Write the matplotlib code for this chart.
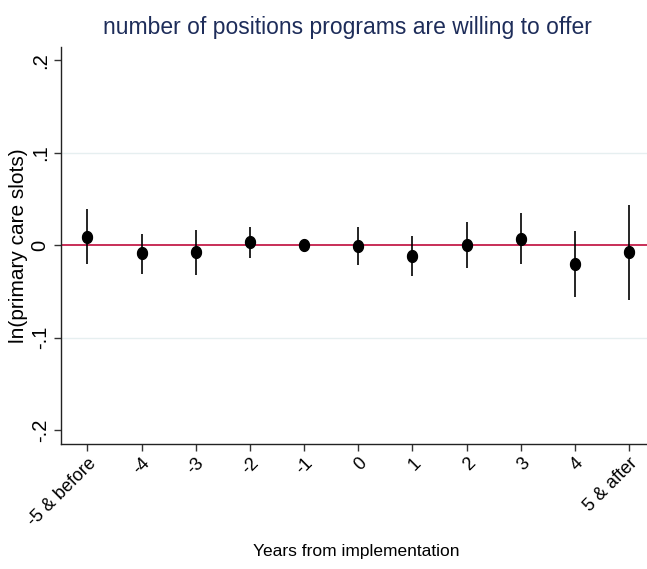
import numpy as np
import matplotlib.pyplot as plt

# event-study estimates
labels = ["-5 & before", "-4", "-3", "-2", "-1", "0", "1", "2", "3", "4", "5 & after"]
coef = [0.009, -0.009, -0.008, 0.003, 0.000, -0.001, -0.012, 0.000, 0.007, -0.020, -0.008]
ci_lo = [-0.021, -0.031, -0.032, -0.014, 0.000, -0.022, -0.033, -0.025, -0.020, -0.056, -0.059]
ci_hi = [0.039, 0.012, 0.016, 0.020, 0.000, 0.019, 0.010, 0.025, 0.035, 0.015, 0.043]

TITLE_COLOR = '#1e2d5a'
ZERO_COLOR = '#c41e4a'
GRID_COLOR = '#e6eff0'

plt.rcParams['font.family'] = ['Liberation Sans', 'DejaVu Sans']

fig = plt.figure(figsize=(6.47, 5.69), dpi=100)
ax = fig.add_axes([0.094, 0.220, 0.906, 0.697])

x = np.arange(len(labels))
coef = np.array(coef)
lo = np.array(ci_lo)
hi = np.array(ci_hi)

# slightly tall dot, like the stata output
t = np.linspace(0, 2 * np.pi, 40)
dot = np.column_stack([0.84 * np.cos(t), np.sin(t)])

for yv in [-0.1, 0.1]:
    ax.axhline(yv, color=GRID_COLOR, lw=1.0, zorder=0)
ax.axhline(0, color=ZERO_COLOR, lw=1.3, zorder=1)

ax.vlines(x, lo, hi, color='black', lw=1.2, zorder=2)
ax.plot(x, coef, marker=dot, ls='none', color='black', markersize=8.5, zorder=3)

ax.set_xlim(-0.49, 10.33)
ax.set_ylim(-0.215, 0.214)

ax.set_yticks([-0.2, -0.1, 0, 0.1, 0.2])
ax.set_yticklabels(['-.2', '-.1', '0', '.1', '.2'], rotation=90, va='center', fontsize=14.5)
ax.set_xticks(x)
ax.set_xticklabels(labels, rotation=45, ha='right', va='top', rotation_mode='anchor', fontsize=13)

for side in ['top', 'right']:
    ax.spines[side].set_visible(False)
for side in ['left', 'bottom']:
    ax.spines[side].set_color('#222222')
    ax.spines[side].set_linewidth(1.0)
ax.tick_params(direction='out', length=5, width=1.0, color='#333333', pad=3)

ax.set_ylabel('ln(primary care slots)', fontsize=15, labelpad=2)
fig.text(0.55, 0.031, 'Years from implementation', ha='center', va='center', fontsize=12.5)
fig.text(0.537, 0.952, 'number of positions programs are willing to offer',
         ha='center', va='center', fontsize=16.5, color=TITLE_COLOR)

fig.savefig('out.png', dpi=100)
